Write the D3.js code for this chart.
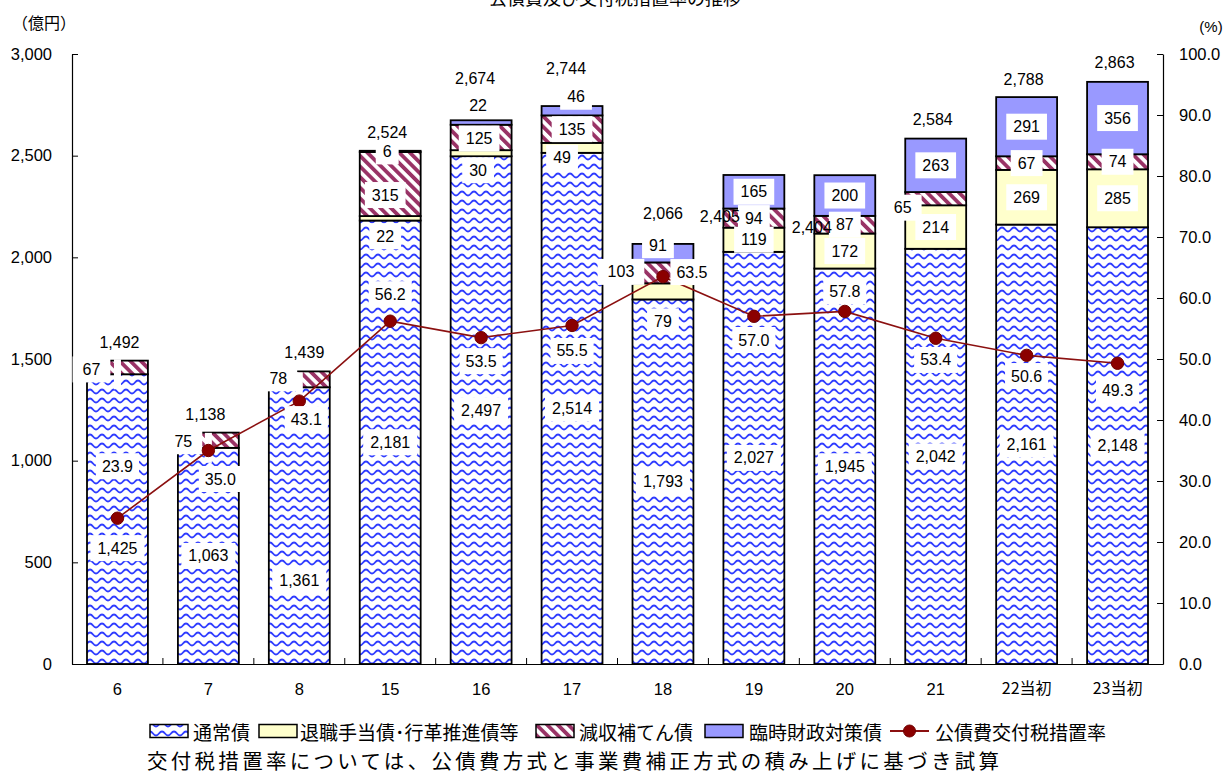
<!DOCTYPE html>
<html>
<head>
<meta charset="utf-8">
<script src="https://cdn.jsdelivr.net/npm/d3@7"></script>
<style>
  body { margin: 0; background: #fff; }
  svg { display: block; }
</style>
</head>
<body>
<svg id="chart" width="1225" height="776"></svg>
<script>
// 公債費の内訳（億円）と公債費交付税措置率（%）
const categories = ["6", "7", "8", "15", "16", "17", "18", "19", "20", "21", "22当初", "23当初"];
const regularBonds = [1425, 1063, 1361, 2181, 2497, 2514, 1793, 2027, 1945, 2042, 2161, 2148];
const retirementBonds = [0, 0, 0, 22, 30, 49, 79, 119, 172, 214, 269, 285];
const shortfallBonds = [67, 75, 78, 315, 125, 135, 103, 94, 87, 65, 67, 74];
const temporaryBonds = [0, 0, 0, 6, 22, 46, 91, 165, 200, 263, 291, 356];
const totals = [1492, 1138, 1439, 2524, 2674, 2744, 2066, 2405, 2404, 2584, 2788, 2863];
const measureRates = [23.9, 35.0, 43.1, 56.2, 53.5, 55.5, 63.5, 57.0, 57.8, 53.4, 50.6, 49.3];
const leftTicks = [0, 500, 1000, 1500, 2000, 2500, 3000];
const rightTicks = [0, 10, 20, 30, 40, 50, 60, 70, 80, 90, 100];
const seriesNames = ["通常債", "退職手当債･行革推進債等", "減収補てん債", "臨時財政対策債"];
const rateName = "公債費交付税措置率";
const titleText = "公債費及び交付税措置率の推移";
const noteText = "交付税措置率については、公債費方式と事業費補正方式の積み上げに基づき試算";

const seriesValues = [regularBonds, retirementBonds, shortfallBonds, temporaryBonds];

const NUM_FONT = "'Liberation Sans', Arial, sans-serif";
const JP_FONT = "'Noto Sans CJK JP', 'Noto Sans', sans-serif";

const svg = d3.select("#chart");
const plotLeft = 72, plotRight = 1163, plotTop = 54, plotBottom = 664;

const x = d3.scaleBand().domain(categories).range([plotLeft, plotRight])
  .paddingInner(0.33).paddingOuter(0.165);
const y = d3.scaleLinear().domain([0, 3000]).range([plotBottom, plotTop]);
const yR = d3.scaleLinear().domain([0, 100]).range([plotBottom, plotTop]);

// fills: wave hatch, pale yellow, diagonal stripes, lavender
const defs = svg.append("defs");
const wave = defs.append("pattern").attr("id", "wave")
  .attr("patternUnits", "userSpaceOnUse").attr("width", 12).attr("height", 9);
wave.append("rect").attr("width", 12).attr("height", 9).attr("fill", "#fff");
wave.append("path").attr("d", "M0,6.5 C3,6.5 3,2.5 6,2.5 C9,2.5 9,6.5 12,6.5")
  .attr("fill", "none").attr("stroke", "#2f3cff").attr("stroke-width", 1.8);

const stripe = defs.append("pattern").attr("id", "stripe")
  .attr("patternUnits", "userSpaceOnUse").attr("width", 7.5).attr("height", 7.5)
  .attr("patternTransform", "rotate(-45)");
stripe.append("rect").attr("width", 7.5).attr("height", 7.5).attr("fill", "#fff");
stripe.append("rect").attr("width", 3.8).attr("height", 7.5).attr("fill", "#993366");

const fills = ["url(#wave)", "#FFFFCC", "url(#stripe)", "#9999FF"];

// stacked data
const rows = categories.map((c, i) => {
  const r = { cat: c };
  seriesValues.forEach((vals, s) => { r["s" + s] = vals[i]; });
  return r;
});
const stacked = d3.stack().keys(["s0", "s1", "s2", "s3"])(rows);

// bars
const barG = svg.append("g");
stacked.forEach((layer, s) => {
  barG.selectAll(null).data(layer.filter(d => d[1] - d[0] > 0)).enter().append("rect")
    .attr("x", d => x(d.data.cat))
    .attr("width", x.bandwidth())
    .attr("y", d => y(d[1]))
    .attr("height", d => y(d[0]) - y(d[1]))
    .attr("fill", fills[s])
    .attr("stroke", "#000")
    .attr("stroke-width", 1.8);
});

// axes
const axL = d3.axisLeft(y).tickValues(leftTicks).tickFormat(d3.format(","))
  .tickSizeInner(-6).tickSizeOuter(0).tickPadding(20);
const gL = svg.append("g").attr("transform", `translate(${plotLeft},0)`).call(axL);
const axR = d3.axisRight(yR).tickValues(rightTicks).tickFormat(d3.format(".1f"))
  .tickSizeInner(-6).tickSizeOuter(0).tickPadding(16);
const gR = svg.append("g").attr("transform", `translate(${plotRight},0)`).call(axR);
[gL, gR].forEach(g => {
  g.select(".domain").attr("stroke", "#000").attr("stroke-width", 1.2);
  g.selectAll(".tick line").attr("stroke", "#000");
  g.selectAll(".tick text").attr("font-family", NUM_FONT).attr("font-size", 16.5).attr("fill", "#000");
});

// category axis with ticks between bands
const axB = d3.axisBottom(x).tickSize(0).tickPadding(19);
const gB = svg.append("g").attr("transform", `translate(0,${plotBottom})`).call(axB);
gB.select(".domain").attr("stroke", "#000").attr("stroke-width", 1.2);
gB.selectAll(".tick text").attr("font-family", NUM_FONT).attr("font-size", 16.5).attr("fill", "#000")
  .filter(d => /当初/.test(d)).attr("font-family", JP_FONT).attr("font-size", 16);
gB.selectAll(null).data(d3.range(1, categories.length)).enter().append("line")
  .attr("x1", i => plotLeft + i * x.step()).attr("x2", i => plotLeft + i * x.step())
  .attr("y1", 0).attr("y2", -6).attr("stroke", "#000");

// label helper: white box behind text
function boxLabel(g, cx, cy, text, pad, opts = {}) {
  const grp = g.append("g");
  const rect = grp.append("rect").attr("fill", "#fff");
  const t = grp.append("text").attr("x", cx).attr("y", cy)
    .attr("text-anchor", "middle").attr("dominant-baseline", "central")
    .attr("font-family", NUM_FONT).attr("font-size", 16).attr("fill", "#000")
    .text(text);
  const w = text ? t.node().getComputedTextLength() : 0;
  const bw = opts.w != null ? opts.w : w + 2 * pad;
  const bh = opts.h != null ? opts.h : 26;
  if (opts.box !== false) {
    rect.attr("x", cx - bw / 2).attr("y", cy - bh / 2).attr("width", bw).attr("height", bh);
  } else rect.remove();
  return grp;
}

// segment label placement tweaks (px)
const segNudge = {
  "0-0": [0, 29], "0-2": [0, 55],
  "1-3": [-5, 18], "1-4": [-3, 17], "1-5": [-10, 10], "1-6": [0, 30],
  "2-0": [-26, 2], "2-1": [-25, 1], "2-2": [-21, -1], "2-3": [-5, 11], "2-4": [-2, 1],
  "2-6": [-42, -1], "2-9": [-33, 9],
  "3-3": [-3, 0], "3-4": [-3, -17], "3-5": [4, -14], "3-6": [-5, -8]
};
const segPad = { "2-0": 10, "2-1": 10, "2-2": 10, "2-6": 10, "2-9": 10 };

const labelG = svg.append("g");
stacked.forEach((layer, s) => {
  layer.forEach((d, i) => {
    const v = seriesValues[s][i];
    const cx = x(d.data.cat) + x.bandwidth() / 2;
    if (v === 0) {
      if (s === 1) boxLabel(labelG, cx, y(d[0]), "", 0, { w: 7, h: 30 });
      return;
    }
    const key = s + "-" + i;
    const nd = segNudge[key] || [0, 0];
    const cy = (y(d[0]) + y(d[1])) / 2;
    boxLabel(labelG, cx + nd[0], cy + nd[1], d3.format(",")(v), segPad[key] || 7);
  });
});

// rate line
const line = d3.line().x((d, i) => x(categories[i]) + x.bandwidth() / 2).y(d => yR(d));
svg.append("path").datum(measureRates).attr("d", line)
  .attr("fill", "none").attr("stroke", "#8B1010").attr("stroke-width", 1.6);
svg.append("g").selectAll("circle").data(measureRates).enter().append("circle")
  .attr("cx", (d, i) => x(categories[i]) + x.bandwidth() / 2)
  .attr("cy", d => yR(d)).attr("r", 6.2)
  .attr("fill", "#8B0000").attr("stroke", "#700000");

// rate labels
const rateNudge = [[0, -52], [12, 28.5], [7, 18], [0, -27], [0, 23.5], [0, 25.5],
  [29, -4.6], [0, 23.7], [0, -20.4], [0, 21.7], [0, 20.7], [0, 27.7]];
const rateG = svg.append("g");
measureRates.forEach((v, i) => {
  const cx = x(categories[i]) + x.bandwidth() / 2;
  boxLabel(rateG, cx + rateNudge[i][0], yR(v) + rateNudge[i][1], d3.format(".1f")(v), 6);
});

// totals above bars
const totNudge = [[2, -18], [-3, -18.6], [5, -19], [-3, -18], [-6, -42], [-6, -38],
  [0, -30], [-34, 42], [-33, 52], [-3, -18.6], [-3, -18], [-3, -19]];
const totG = svg.append("g");
totals.forEach((v, i) => {
  const cx = x(categories[i]) + x.bandwidth() / 2;
  boxLabel(totG, cx + totNudge[i][0], y(v) + totNudge[i][1], d3.format(",")(v), 0, { box: false });
});

// unit captions and title
svg.append("text").attr("x", 44).attr("y", 22).attr("text-anchor", "middle")
  .attr("dominant-baseline", "central").attr("font-family", JP_FONT).attr("font-size", 16)
  .text("（億円）");
svg.append("text").attr("x", 1211).attr("y", 26).attr("text-anchor", "middle")
  .attr("dominant-baseline", "central").attr("font-family", NUM_FONT).attr("font-size", 15)
  .text("(%)");
svg.append("text").attr("x", 615).attr("y", 5).attr("text-anchor", "middle")
  .attr("font-family", JP_FONT).attr("font-size", 18).text(titleText);

// legend
const legY = 731;
const legG = svg.append("g");
const legItems = [
  { sx: 150, tx: 193, s: 0 },
  { sx: 259, tx: 300, s: 1 },
  { sx: 536, tx: 579, s: 2 },
  { sx: 705, tx: 749, s: 3 }
];
legItems.forEach(it => {
  legG.append("rect").attr("x", it.sx).attr("y", legY - 6.5).attr("width", 38).attr("height", 13)
    .attr("fill", fills[it.s]).attr("stroke", "#000").attr("stroke-width", 1.5);
  legG.append("text").attr("x", it.tx).attr("y", legY).attr("dominant-baseline", "central")
    .attr("font-family", JP_FONT).attr("font-size", 19).text(seriesNames[it.s]);
});
legG.append("line").attr("x1", 890).attr("x2", 929).attr("y1", legY).attr("y2", legY)
  .attr("stroke", "#8B1010").attr("stroke-width", 1.8);
legG.append("circle").attr("cx", 909.5).attr("cy", legY).attr("r", 6)
  .attr("fill", "#8B0000").attr("stroke", "#700000");
legG.append("text").attr("x", 935).attr("y", legY).attr("dominant-baseline", "central")
  .attr("font-family", JP_FONT).attr("font-size", 19).text(rateName);

// footnote
svg.append("text").attr("x", 147).attr("y", 760).attr("dominant-baseline", "central")
  .attr("font-family", JP_FONT).attr("font-size", 20.5)
  .attr("textLength", 852).attr("lengthAdjust", "spacing").text(noteText);
</script>
</body>
</html>
